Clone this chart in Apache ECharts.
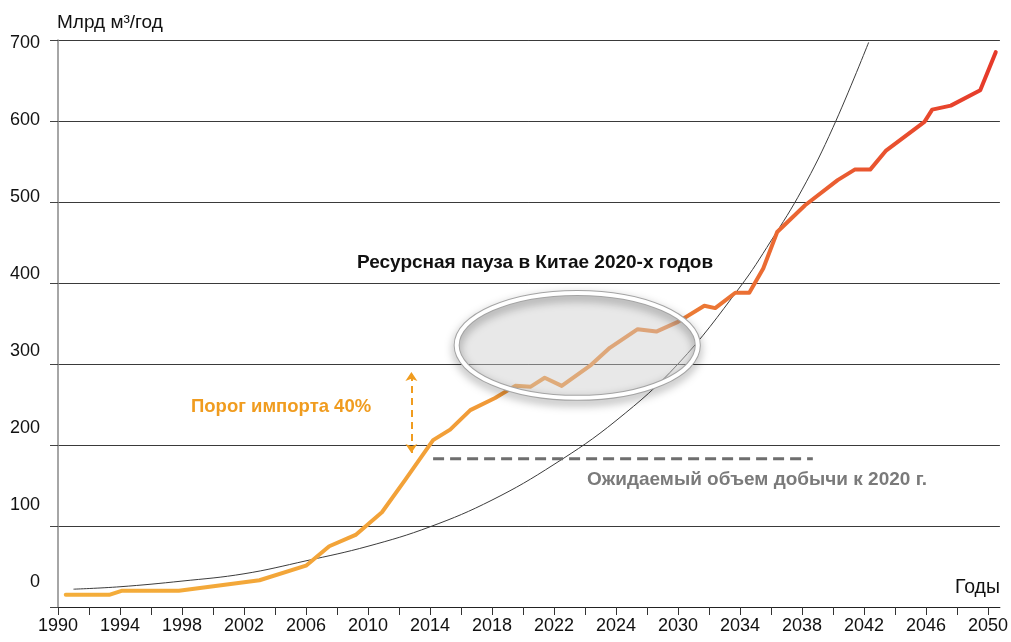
<!DOCTYPE html>
<html>
<head>
<meta charset="utf-8">
<script src="https://cdn.jsdelivr.net/npm/echarts@6/dist/echarts.min.js"></script>
<style>
html,body{margin:0;padding:0;background:#fff;}
#c{width:1011px;height:642px;}
</style>
</head>
<body>
<div id="c"></div>
<script>
// ---- data ----
const importYears  = [1990.5,1993.3,1994.1,1997.8,2003,2006,2007.5,2009.2,2010.9,2012.4,2014.2,2015.3,2016.6,2018.2,2019.5,2020.5,2021.4,2022.5,2024.4,2025.6,2027.4,2028.6,2030,2031.7,2032.4,2033.7,2034.6,2035.5,2036.4,2038.2,2040.3,2041.4,2042.4,2043.4,2045.9,2046.4,2047.6,2049.5,2050.5];
const importValues = [15,15,20,20,33,51,75,89,117,157,206,219,243,258,273,272,283,273,299,320,343,340,352,372,369,388,388,418,463,496,527,540,540,563,599,614,619,638,685];

const curveYears  = [1991,1994,1998,2002,2006,2010,2014,2018,2022,2026,2030,2034,2036,2038,2040,2042.3];
const curveValues = [22,25,32,41,57,75,99,132,176,230,300,395,452,515,592,697];

const productionYears = [2014.2,2038.7];
const productionValues = [183,183];

const thresholdYear = 2012.8;
const thresholdRange = [190,290];

const xTickYears  = [1990,1992,1994,1996,1998,2000,2002,2004,2006,2008,2010,2012,2014,2016,2018,2020,2022,2024,2026,2028,2030,2032,2034,2036,2038,2040,2042,2044,2046,2048,2050];
const xLabelYears = [1990,1994,1998,2002,2006,2010,2014,2018,2022,2026,2030,2034,2038,2042,2046,2050];
const xLabelTexts = ['1990','1994','1998','2002','2006','2010','2014','2018','2022','2024','2030','2034','2038','2042','2046','2050'];
const yLabelValues = [0,100,200,300,400,500,600,700];

const pauseCenter = [2023.5, 323];
const pauseHalf = [7.78, 64.8];

// ---- chart ----
const FONT = '"Liberation Sans", Arial, Helvetica, sans-serif';
const pair = (xs, ys) => xs.map((x, i) => [x, ys[i]]);

const chart = echarts.init(document.getElementById('c'));
const option = {
  animation: false,
  backgroundColor: '#fff',
  textStyle: { fontFamily: FONT },
  grid: { left: 58, right: 8, top: 40, bottom: 35 },
  xAxis: {
    type: 'value', min: 1990, max: 2050.77,
    axisLine: { show: true, lineStyle: { color: '#222', width: 1 } },
    axisTick: { show: true, length: 8, customValues: xTickYears, lineStyle: { color: '#333', width: 1 } },
    axisLabel: {
      customValues: xLabelYears, fontSize: 18, color: '#111', margin: 10, fontFamily: FONT,
      formatter: v => { const i = xLabelYears.indexOf(Math.round(v)); return i >= 0 ? xLabelTexts[i] : ''; }
    },
    splitLine: { show: false }
  },
  yAxis: [
    {
      type: 'value', min: 0, max: 700, interval: 100,
      name: 'Млрд м³/год', nameLocation: 'end', nameGap: 8,
      nameTextStyle: { align: 'left', verticalAlign: 'bottom', fontSize: 19, color: '#111', fontFamily: FONT, padding: [0,0,0,-1] },
      axisLine: { show: true, lineStyle: { color: '#888', width: 1.5 } },
      axisTick: { show: true, length: 8, lineStyle: { color: '#444', width: 1 } },
      axisLabel: { show: false },
      splitLine: { show: true, lineStyle: { color: '#3a3a3a', width: 1 } }
    },
    {
      type: 'value', min: -32.5, max: 703.8, position: 'left',
      axisLine: { show: false }, axisTick: { show: false }, splitLine: { show: false },
      axisLabel: { customValues: yLabelValues, fontSize: 18, color: '#111', margin: 18, fontFamily: FONT }
    }
  ],
  series: [
    {
      type: 'line', name: 'curve', data: pair(curveYears, curveValues),
      smooth: 0.4, showSymbol: false, symbol: 'none', z: 2,
      lineStyle: { color: '#3c3c3c', width: 1 }
    },
    {
      type: 'line', name: 'production', data: pair(productionYears, productionValues),
      showSymbol: false, symbol: 'none', z: 3,
      lineStyle: { color: '#6e6e6e', width: 3, type: [11, 6] }
    },
    {
      type: 'line', name: 'import', data: pair(importYears, importValues),
      showSymbol: false, symbol: 'none', z: 4,
      lineStyle: {
        width: 4, cap: 'round', join: 'round',
        color: new echarts.graphic.LinearGradient(0, 0, 1, 0, [
          { offset: 0, color: '#F4AE3A' },
          { offset: 0.4, color: '#F2A038' },
          { offset: 0.62, color: '#EC8436' },
          { offset: 0.82, color: '#EA5E31' },
          { offset: 1, color: '#E6392A' }
        ])
      },
      markLine: {
        silent: true, symbol: ['arrow', 'arrow'], symbolSize: [9, 9],
        label: { show: false },
        lineStyle: { color: '#F09C1F', width: 2, type: [7, 5] },
        data: [[{ coord: [thresholdYear, thresholdRange[0]] }, { coord: [thresholdYear, thresholdRange[1]] }]]
      }
    }
  ]
};
chart.setOption(option);

const c = chart.convertToPixel({ xAxisIndex: 0, yAxisIndex: 0 }, pauseCenter);
const e = chart.convertToPixel({ xAxisIndex: 0, yAxisIndex: 0 }, [pauseCenter[0] + pauseHalf[0], pauseCenter[1] + pauseHalf[1]]);
const rx = Math.abs(e[0] - c[0]), ry = Math.abs(c[1] - e[1]);

const txt = (text, x, y, fill, size, weight, align) => ({
  type: 'text', z: 20,
  style: { text, x, y, fill, font: `${weight} ${size}px ${FONT}`, align: align || 'left', verticalAlign: 'middle', textAlign: align || 'left', textVerticalAlign: 'middle' }
});

chart.setOption({
  graphic: [
    {
      type: 'ellipse', z: 10, silent: true,
      shape: { cx: c[0], cy: c[1], rx: rx, ry: ry },
      style: { fill: 'rgba(205,205,205,0.45)', stroke: null }
    },
    {
      type: 'ellipse', z: 11, silent: true,
      shape: { cx: c[0], cy: c[1], rx: rx, ry: ry },
      style: { fill: null, stroke: '#a4a4a4', lineWidth: 6, shadowBlur: 10, shadowColor: 'rgba(0,0,0,0.35)', shadowOffsetY: 4 }
    },
    {
      type: 'ellipse', z: 12, silent: true,
      shape: { cx: c[0], cy: c[1], rx: rx, ry: ry },
      style: { fill: null, stroke: '#ffffff', lineWidth: 4 }
    },
    txt('Ресурсная пауза в Китае 2020-х годов', 357, 263, '#111', 19, 'bold'),
    txt('Порог импорта 40%', 191, 407, '#F09C1F', 18.5, 'bold'),
    txt('Ожидаемый объем добычи к 2020 г.', 587, 480, '#7a7a7a', 19, 'bold'),
    txt('Годы', 1000, 588, '#111', 19.5, 'normal', 'right')
  ]
});
</script>
</body>
</html>
